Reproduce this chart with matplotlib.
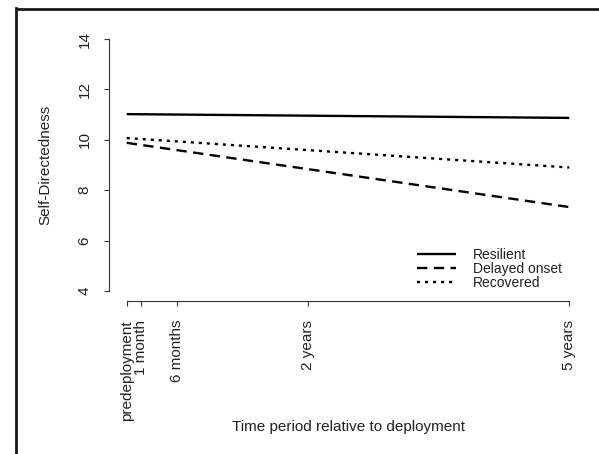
import matplotlib
matplotlib.use("Agg")
import matplotlib.pyplot as plt
from matplotlib.lines import Line2D

plt.rcParams['font.family'] = ['Liberation Sans', 'DejaVu Sans']

# ---- data ----
tick_labels = ["predeployment", "1 month", "6 months", "2 years", "5 years"]
tick_months = [-1, 1, 6, 24, 60]          # position on time axis (months)
line_months = [-1, 60]                    # trajectory end points
resilient = [11.02, 10.87]
delayed_onset = [9.88, 7.33]
recovered = [10.07, 8.90]
series_names = ["Resilient", "Delayed onset", "Recovered"]
y_ticks = [4, 6, 8, 10, 12, 14]

W, H = 599, 454
fig = plt.figure(figsize=(W / 100, H / 100), dpi=100)
fig.patch.set_facecolor("white")

left, right, top, bottom = 109, 587, 29, 301
ax = fig.add_axes([left / W, 1 - bottom / H, (right - left) / W, (bottom - top) / H])

ink = "#222222"
lw = 1.7
h1, = ax.plot(line_months, resilient, color="black", lw=lw, solid_capstyle="butt")
h2, = ax.plot(line_months, delayed_onset, color="black", lw=lw, dashes=(4.4, 2.7))
h3, = ax.plot(line_months, recovered, color="black", lw=lw, dashes=(1.3, 2.1))

span = tick_months[-1] - tick_months[0]
ax.set_xlim(tick_months[0] - 0.04 * span, tick_months[-1] + 0.04 * span)
ax.set_ylim(4 - 0.4, 14 + 0.4)

for s in ["top", "right"]:
    ax.spines[s].set_visible(False)
ax.spines["left"].set_bounds(4, 14)
ax.spines["bottom"].set_bounds(tick_months[0], tick_months[-1])
for s in ["left", "bottom"]:
    ax.spines[s].set_color("#333333")
    ax.spines[s].set_linewidth(0.8)

ax.set_xticks(tick_months)
ax.set_xticklabels(tick_labels, rotation=90, fontsize=11, color=ink)
ax.set_yticks(y_ticks)
ax.set_yticklabels([str(v) for v in y_ticks], rotation=90, fontsize=11, color=ink, va="center")
ax.tick_params(axis="both", length=3.6, width=0.8, color="#333333")
ax.tick_params(axis="x", pad=10)
ax.tick_params(axis="y", pad=9)

ax.set_xlabel("Time period relative to deployment", fontsize=11, color=ink, va="center")
ax.xaxis.set_label_coords(0.5, (bottom - 427) / (bottom - top))
ax.set_ylabel("Self-Directedness", fontsize=11, color=ink, va="center", ha="center")
ax.yaxis.set_label_coords((45 - left) / (right - left), 0.5)

leg = ax.legend([h1, h2, h3], series_names, frameon=False, fontsize=10,
                loc="upper left", bbox_to_anchor=(417 / W, 1 - 248 / H),
                bbox_transform=fig.transFigure, borderpad=0, labelspacing=0.0,
                handlelength=2.8, handletextpad=1.2, borderaxespad=0)
for t in leg.get_texts():
    t.set_color(ink)

# outer frame (top and left visible)
fig.add_artist(Line2D([15.5 / W, 1.0], [1 - 8.7 / H, 1 - 8.7 / H], transform=fig.transFigure,
                      color="#1a1a1a", lw=2.0, solid_capstyle="butt"))
fig.add_artist(Line2D([15.5 / W, 15.5 / W], [0.0, 1 - 8 / H], transform=fig.transFigure,
                      color="#1a1a1a", lw=2.0, solid_capstyle="projecting"))

fig.savefig("out.png", dpi=100)
